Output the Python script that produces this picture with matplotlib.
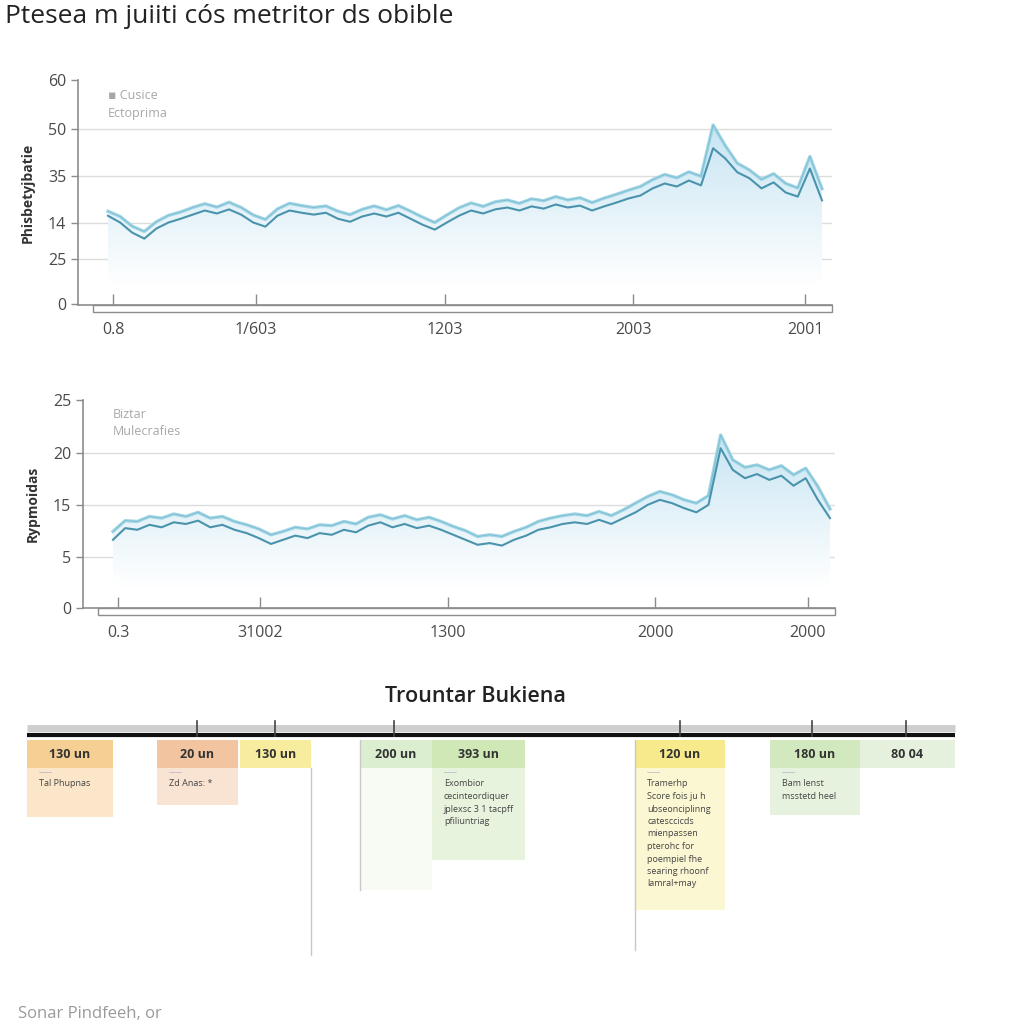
#!/usr/bin/env python3
"""plot.py - two stacked area/line panels plus a timeline strip."""

import numpy as np
import matplotlib
matplotlib.use("Agg")
import matplotlib.pyplot as plt
from matplotlib.patches import Rectangle

plt.rcParams["font.family"] = ["Open Sans", "DejaVu Sans"]

# ---- data -------------------------------------------------------------
top_dark = [23.8, 22.0, 19.3, 17.7, 20.4, 22.0, 23.0, 24.1, 25.2, 24.4,
            25.5, 24.1, 22.0, 20.9, 23.8, 25.2, 24.6, 24.1, 24.6, 23.0,
            22.2, 23.6, 24.4, 23.6, 24.6, 23.0, 21.4, 20.1, 22.0, 23.8,
            25.2, 24.4, 25.5, 26.0, 25.2, 26.3, 25.7, 26.8, 26.0, 26.5,
            25.2, 26.3, 27.3, 28.4, 29.2, 31.1, 32.4, 31.6, 33.2, 31.9,
            41.8, 39.1, 35.4, 33.8, 31.1, 32.7, 30.0, 28.9, 36.4, 27.9]
top_light = [25.0, 23.6, 21.0, 19.6, 22.2, 23.9, 24.8, 26.0, 27.0, 26.1,
             27.4, 26.0, 24.0, 22.8, 25.6, 27.1, 26.5, 26.0, 26.4, 25.0,
             24.1, 25.5, 26.4, 25.4, 26.5, 25.0, 23.4, 22.0, 24.0, 25.9,
             27.2, 26.3, 27.5, 28.0, 27.1, 28.3, 27.8, 28.9, 28.0, 28.6,
             27.3, 28.5, 29.5, 30.6, 31.6, 33.4, 34.8, 33.9, 35.5, 34.3,
             48.0, 42.5, 37.8, 36.0, 33.5, 35.0, 32.4, 31.2, 39.6, 31.0]
top_ticks = ["0.8", "1/603", "1203", "2003", "2001"]
top_yticks = ["60", "50", "35", "14", "25", "0"]

mid_dark = [8.2, 9.6, 9.4, 10.0, 9.7, 10.3, 10.1, 10.5, 9.7, 10.0,
            9.4, 9.0, 8.4, 7.7, 8.2, 8.7, 8.4, 9.0, 8.8, 9.4,
            9.1, 9.9, 10.3, 9.7, 10.1, 9.6, 9.9, 9.4, 8.8, 8.2,
            7.6, 7.8, 7.5, 8.2, 8.7, 9.4, 9.7, 10.1, 10.3, 10.1,
            10.6, 10.1, 10.8, 11.5, 12.4, 13.0, 12.6, 12.0, 11.5, 12.4,
            19.2, 16.6, 15.6, 16.1, 15.4, 15.9, 14.7, 15.6, 13.0, 10.8]
mid_light = [9.2, 10.5, 10.4, 11.0, 10.8, 11.3, 11.0, 11.5, 10.8, 11.0,
             10.4, 10.0, 9.5, 8.8, 9.2, 9.7, 9.5, 10.0, 9.9, 10.4,
             10.1, 10.9, 11.2, 10.7, 11.1, 10.6, 10.9, 10.4, 9.8, 9.3,
             8.6, 8.8, 8.6, 9.2, 9.7, 10.4, 10.8, 11.1, 11.3, 11.1,
             11.6, 11.1, 11.8, 12.6, 13.4, 14.0, 13.6, 13.0, 12.6, 13.5,
             20.8, 17.8, 16.9, 17.2, 16.6, 17.1, 16.0, 16.8, 14.6, 11.9]
mid_ticks = ["0.3", "31002", "1300", "2000", "2000"]
mid_yticks = ["25", "20", "15", "5", "0"]

event_labels = ["130 un", "20 un", "130 un", "200 un", "393 un",
                "120 un", "180 un", "80 04"]
event_notes = [["Tal Phupnas"], ["Zd Anas: *"], [], [],
               ["Exombior", "cecinteordiquer", "jplexsc 3 1 tacpff",
                "pfiliuntriag"],
               ["Tramerhp", "Score fois ju h", "ubseonciplinng",
                "catesccicds", "mienpassen", "pterohc for",
                "poempiel fhe", "searing rhoonf", "lamral+may"],
               ["Bam lenst", "msstetd heel"], []]

# ---- layout / styling -------------------------------------------------
DARK = "#4a93ad"
LIGHT = "#a3d6e6"
FILL = "#b9def0"
GRID = "#dcdcdc"
SPINE = "#8c8c8c"

box_x = [(27, 113), (157, 238), (240, 311), (360, 432), (432, 525),
         (635, 725), (770, 860), (860, 955)]
head_col = ["#f6cf95", "#f3c4a0", "#f8ec9e", "#dbeed0", "#cfe8b5",
            "#f7ea8c", "#d2e9bf", "#e5f1dc"]
body_bot = [817, 805, None, 890, 860, 910, 815, None]
body_col = ["#fbe6c9", "#f9e3d3", None, "#f7fbf4", "#e8f3dd", "#fcf7d3",
            "#e6f1de", None]
tl_ticks = [197, 275, 394, 680, 812, 906]


def panel(fig, rect_px, dark, light, xticks_px, xlabels, ylabels,
          ytick_px, ymax, data_x0, data_x1, ylabel, legend, base):
    x0, y0, x1, y1 = rect_px  # left, top, right, bottom in pixels
    ax = fig.add_axes([x0 / 1024, 1 - y1 / 1024,
                       (x1 - x0) / 1024, (y1 - y0) / 1024])
    ax.set_facecolor("none")
    n = len(dark)
    xs = np.arange(n)
    ppi = (data_x1 - data_x0) / (n - 1)
    ax.set_xlim(-(data_x0 - x0) / ppi, (n - 1) + (x1 - data_x1) / ppi)
    ax.set_ylim(0, ymax)

    # gradient fill under the light line
    poly = ax.fill_between(xs, base, light, color="none", lw=0)
    grad = np.linspace(1, 0, 256).reshape(-1, 1)
    cmap = matplotlib.colors.LinearSegmentedColormap.from_list(
        "g", ["#ffffff", FILL])
    top = max(light)
    im = ax.imshow(grad, extent=[0, n - 1, base, top], aspect="auto",
                   cmap=cmap, vmin=0, vmax=1.25, origin="upper", zorder=1)
    im.set_clip_path(poly.get_paths()[0], transform=ax.transData)

    ax.plot(xs, light, color=LIGHT, lw=2.4, zorder=3)
    ax.plot(xs, light, color="#7cbfd2", lw=0.7, zorder=3)
    ax.plot(xs, dark, color=DARK, lw=1.5, zorder=4)

    ypos = [(y1 - p) / (y1 - y0) * ymax for p in ytick_px]
    ax.set_yticks(ypos)
    ax.set_yticklabels(ylabels)
    for yp in ypos[1:-1]:
        ax.axhline(yp, color=GRID, lw=1, zorder=0)

    xpos = [(p - x0) / ppi + ax.get_xlim()[0] for p in xticks_px]
    ax.set_xticks(xpos)
    ax.set_xticklabels(xlabels)

    for s in ["top", "right"]:
        ax.spines[s].set_visible(False)
    for s in ["left", "bottom"]:
        ax.spines[s].set_color(SPINE)
        ax.spines[s].set_linewidth(1.2)
    ax.tick_params(colors="#4a4a4a", labelsize=11.5, length=5, width=1,
                   color=SPINE)
    ax.tick_params(axis="x", pad=12, direction="in", length=8)
    ax.add_patch(Rectangle((0.02, -0.032), 0.98, 0.032,
                           transform=ax.transAxes, fill=False,
                           ec=SPINE, lw=1, clip_on=False))
    ax.set_ylabel(ylabel, fontsize=10, fontweight="bold", color="#333333")
    ax.yaxis.set_label_coords(-0.058, 0.5)

    lx = 0.04
    ax.text(lx, 0.93, legend[0], transform=ax.transAxes, fontsize=9,
            color="#a8a8a8", va="center")
    ax.text(lx, 0.85, legend[1], transform=ax.transAxes, fontsize=9,
            color="#a8a8a8", va="center")
    return ax


fig = plt.figure(figsize=(10.24, 10.24), dpi=100)

# overlay in pixel coordinates for the timeline and free text
ov = fig.add_axes([0, 0, 1, 1], zorder=-1)
ov.set_xlim(0, 1024)
ov.set_ylim(1024, 0)
ov.axis("off")

ov.text(5, 4, "Ptesea m juiiti cós metritor ds obible", fontsize=19,
        color="#222222", va="top", ha="left", fontweight="medium")

panel(fig, (78, 80, 832, 305), top_dark, top_light,
      [113, 256, 445, 633, 805], top_ticks, top_yticks,
      [80, 129, 176, 223, 259, 304], 60, 108, 822,
      "Phisbetyjbatie", ["\u25aa Cusice", "Ectoprima"], 5)

panel(fig, (83, 400, 835, 608), mid_dark, mid_light,
      [118, 260, 448, 655, 808], mid_ticks, mid_yticks,
      [400, 453, 505, 557, 608], 25, 113, 830,
      "Rypmoidas", ["Biztar", "Mulecrafies"], 2.5)

# ---- timeline -----------------------------------------------------------
ov.text(475, 697, "Trountar Bukiena", fontsize=15.5, color="#222222",
        ha="center", va="center", fontweight="semibold")
ov.plot([27, 955], [728, 728], color="#cfcfcf", lw=5, solid_capstyle="butt")
ov.plot([27, 955], [735, 735], color="#111111", lw=3, solid_capstyle="butt")
for t in tl_ticks:
    ov.plot([t, t], [721, 736], color="#444444", lw=1.2)

for (a, b), hc, bb, bc in zip(box_x, head_col, body_bot, body_col):
    if bb is not None:
        ov.add_patch(Rectangle((a, 768), b - a, bb - 768, fc=bc, ec="none"))
    ov.add_patch(Rectangle((a, 740), b - a, 28, fc=hc, ec="none"))

for (a, b), lab in zip(box_x, event_labels):
    ov.text((a + b) / 2, 755, lab, fontsize=9, fontweight="bold",
            color="#333333", ha="center", va="center")

for (a, b), lines in zip(box_x, event_notes):
    if not lines:
        continue
    ov.text(a + 12, 773, "\u2014\u2014", fontsize=5, color="#9aa0c0",
            va="center")
    for i, line in enumerate(lines):
        ov.text(a + 12, 784 + i * 12.5, line, fontsize=6.5,
                color="#444444", va="center")

ov.plot([311, 311], [768, 955], color="#c8c8c8", lw=1)
ov.plot([360, 360], [740, 890], color="#c8c8c8", lw=1)
ov.plot([635, 635], [740, 950], color="#c8c8c8", lw=1)

ov.text(18, 1014, "Sonar Pindfeeh, or", fontsize=12, color="#9a9a9a",
        va="center")

fig.savefig("out.png", dpi=100)
